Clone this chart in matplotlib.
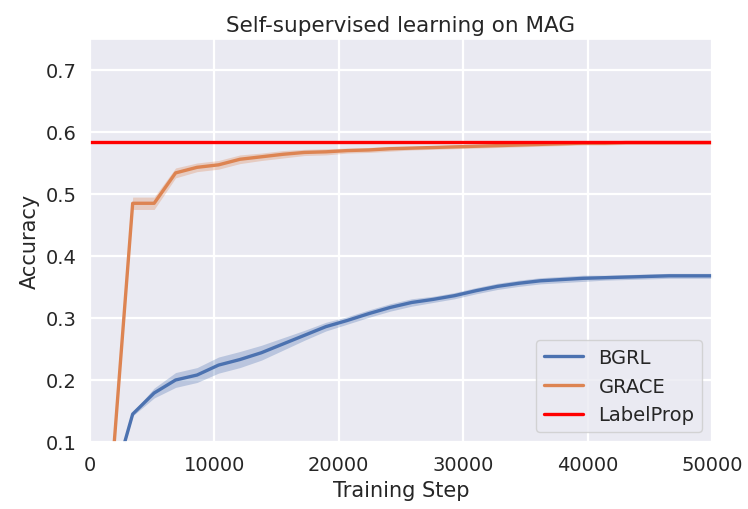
import numpy as np
import seaborn as sns
from matplotlib import pyplot as plt

sns.set_theme(style='darkgrid')
plt.rcParams['font.family'] = ['DejaVu Sans']

# evaluation steps
steps = np.linspace(0, 50000, 30)

bgrl_mean = [0.010, 0.023, 0.145, 0.179, 0.200, 0.208, 0.224, 0.233, 0.244, 0.258,
             0.272, 0.286, 0.296, 0.307, 0.317, 0.325, 0.330, 0.336, 0.344, 0.351,
             0.356, 0.360, 0.362, 0.364, 0.365, 0.366, 0.367, 0.368, 0.368, 0.368]
bgrl_err = [0.002, 0.003, 0.003, 0.008, 0.012, 0.012, 0.013, 0.013, 0.012, 0.010,
            0.008, 0.007, 0.006, 0.006, 0.006, 0.006, 0.005, 0.005, 0.005, 0.005,
            0.005, 0.005, 0.005, 0.005, 0.004, 0.004, 0.004, 0.004, 0.004, 0.004]

grace_mean = [0.010, 0.036, 0.485, 0.485, 0.534, 0.543, 0.547, 0.556, 0.560, 0.564,
              0.567, 0.568, 0.570, 0.571, 0.573, 0.574, 0.575, 0.576, 0.577, 0.578,
              0.579, 0.580, 0.581, 0.582, 0.582, 0.583, 0.583, 0.583, 0.583, 0.583]
grace_err = [0.002, 0.003, 0.010, 0.010, 0.008, 0.007, 0.007, 0.007, 0.006, 0.006,
             0.005, 0.005, 0.004, 0.004, 0.004, 0.003, 0.003, 0.003, 0.003, 0.003,
             0.003, 0.003, 0.003, 0.003, 0.003, 0.003, 0.003, 0.003, 0.003, 0.003]

labelprop_acc = 0.584

fig, ax = plt.subplots(figsize=(7.48, 5.10), dpi=100)
fig.subplots_adjust(left=0.12, right=0.952, top=0.9216, bottom=0.1314)

blue, orange = sns.color_palette('deep')[0], sns.color_palette('deep')[1]

for mean, err, col, name in [(bgrl_mean, bgrl_err, blue, 'BGRL'),
                             (grace_mean, grace_err, orange, 'GRACE')]:
    m = np.array(mean)
    e = np.array(err)
    ax.fill_between(steps, m - e, m + e, color=col, alpha=0.3, linewidth=0)
    ax.plot(steps, m, color=col, lw=2.4, label=name)

ax.axhline(labelprop_acc, color='red', lw=2.4, label='LabelProp')

ax.set_xlim(0, 50000)
ax.set_ylim(0.1, 0.75)
ax.set_yticks([0.1, 0.2, 0.3, 0.4, 0.5, 0.6, 0.7])
ax.grid(lw=1.6)
ax.tick_params(labelsize=14)
ax.set_xlabel('Training Step', fontsize=15)
ax.set_ylabel('Accuracy', fontsize=15)
ax.set_title('Self-supervised learning on MAG', fontsize=15.5)
ax.legend(loc='lower right', fontsize=14)

plt.savefig('out.png', dpi=100)
